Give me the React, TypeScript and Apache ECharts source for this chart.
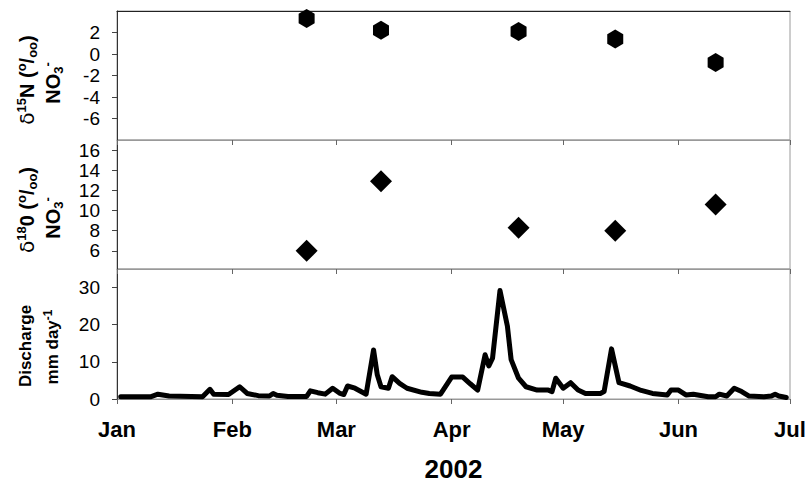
import React, { useEffect, useRef } from 'react';
import * as echarts from 'echarts';

const monthTickDays = [0, 31, 59, 90, 120, 151, 181];
const monthLabels = ['Jan', 'Feb', 'Mar', 'Apr', 'May', 'Jun', 'Jul'];

const sampleDates = ['2002-02-21', '2002-03-13', '2002-04-19', '2002-05-15', '2002-06-11'];
const d15N = [3.3, 2.2, 2.1, 1.4, -0.8];
const d18O = [6.0, 12.9, 8.3, 8.0, 10.6];

const d15NTicks = [-6, -4, -2, 0, 2];
const d18OTicks = [6, 8, 10, 12, 14, 16];
const dischargeTicks = [0, 10, 20, 30];

// day of 2002 (0 = Jan 1)
const dischargeDay = [
  1, 9, 11, 14, 23, 25, 26, 30, 33, 35, 38, 41, 42, 43, 46, 51, 52, 54, 56, 58,
  60, 61, 62, 64, 67, 69, 70, 71, 73, 74, 76, 78, 82, 84, 87, 90, 93, 95, 97, 99,
  100, 101, 103, 105, 106, 108, 110, 113, 116, 117, 118, 120, 122, 124, 126, 130, 131, 133, 135, 138,
  141, 144, 148, 149, 151, 153, 155, 159, 161, 162, 164, 166, 168, 170, 174, 176, 177, 178, 180,
];
const dischargeValue = [
  0.6, 0.6, 1.3, 0.8, 0.6, 2.6, 1.3, 1.2, 3.3, 1.5, 0.9, 0.8, 1.5, 1.0, 0.7, 0.7, 2.2, 1.7, 1.3, 2.9,
  1.5, 1.2, 3.5, 2.9, 1.3, 13.2, 6.5, 3.3, 2.9, 6.0, 4.2, 2.9, 1.8, 1.5, 1.3, 5.9, 5.9, 4.1, 2.4, 11.9,
  8.9, 11.0, 29.2, 19.6, 10.6, 5.6, 3.3, 2.4, 2.4, 2.0, 5.6, 2.9, 4.4, 2.4, 1.5, 1.5, 2.0, 13.5, 4.4, 3.5,
  2.3, 1.5, 1.1, 2.4, 2.4, 1.1, 1.3, 0.6, 0.6, 1.3, 0.8, 2.9, 2.0, 0.8, 0.6, 0.8, 1.3, 0.8, 0.4,
];

const dayOf = (iso: string) => (Date.parse(iso) - Date.parse('2002-01-01')) / 86400000;

const FONT = '"Liberation Sans", Arial, Helvetica, sans-serif';
const hexagon = 'path://M0,-10 L8.66,-5 L8.66,5 L0,10 L-8.66,5 L-8.66,-5 Z';

const titleRich = (main: number, small: number) => ({
  b: { fill: '#000', fontFamily: FONT, fontWeight: 'bold', fontSize: main, lineHeight: main + 4 },
  d: { fill: '#000', fontFamily: 'DejaVu Sans, sans-serif', fontSize: main, lineHeight: main + 4 },
  s: { fill: '#000', fontFamily: FONT, fontWeight: 'bold', fontSize: small, lineHeight: small, verticalAlign: 'top' },
  u: { fill: '#000', fontFamily: FONT, fontWeight: 'bold', fontSize: small, lineHeight: small, verticalAlign: 'bottom' },
});

const vText = (x: number, y: number, text: string, main: number, small: number) => ({
  type: 'text',
  x,
  y,
  rotation: Math.PI / 2,
  style: {
    text,
    align: 'center',
    verticalAlign: 'middle',
    rich: titleRich(main, small),
  },
});

export default function App() {
  const ref = useRef<HTMLDivElement>(null);
  useEffect(() => {
    document.body.style.margin = '0';
    if (!ref.current) return;
    const chart = echarts.init(ref.current, undefined, { renderer: 'svg' });
    const gridBase = { left: 117, width: 673, show: true, borderColor: '#9a9a9a', borderWidth: 1 };
    const mkX = (i: number) => ({
      type: 'value',
      gridIndex: i,
      min: 0,
      max: 181,
      axisLine: { show: true, onZero: false, lineStyle: { color: '#999', width: 1 } },
      axisTick: { show: true, inside: false, length: 5, customValues: monthTickDays, lineStyle: { color: '#666' } },
      axisLabel: {
        show: i === 2,
        customValues: monthTickDays,
        margin: 19,
        color: '#000',
        fontFamily: FONT,
        fontWeight: 'bold',
        fontSize: 22,
        formatter: (v: number) => monthLabels[monthTickDays.indexOf(Math.round(v))] ?? '',
      },
      splitLine: { show: false },
      ...(i === 2
        ? {
            name: '2002',
            nameLocation: 'middle',
            nameGap: 57,
            nameTextStyle: { color: '#000', fontFamily: FONT, fontWeight: 'bold', fontSize: 26 },
          }
        : {}),
    });
    const mkY = (i: number, min: number, max: number, ticks: number[]) => ({
      type: 'value',
      gridIndex: i,
      min,
      max,
      axisLine: { show: true, lineStyle: { color: '#333', width: 1 } },
      axisTick: { show: true, inside: false, length: 5, customValues: ticks, lineStyle: { color: '#444' } },
      axisLabel: { customValues: ticks, margin: 17, color: '#000', fontFamily: FONT, fontSize: 19 },
      splitLine: { show: false },
    });
    chart.setOption({
      animation: false,
      backgroundColor: '#fff',
      grid: [
        { ...gridBase, top: 11, height: 129 },
        { ...gridBase, top: 140, height: 129 },
        { ...gridBase, top: 269, height: 130 },
      ],
      xAxis: [
        mkX(0),
        mkX(1),
        mkX(2),
        {
          type: 'value',
          gridIndex: 0,
          position: 'top',
          min: 0,
          max: 181,
          axisLine: { show: true, onZero: false, lineStyle: { color: '#222', width: 1 } },
          axisTick: { show: false },
          axisLabel: { show: false },
          splitLine: { show: false },
        },
      ],
      yAxis: [
        mkY(0, -8, 4, d15NTicks),
        mkY(1, 4.2, 17, d18OTicks),
        mkY(2, 0, 35, dischargeTicks),
      ],
      series: [
        {
          type: 'scatter',
          xAxisIndex: 0,
          yAxisIndex: 0,
          symbol: hexagon,
          symbolSize: [16, 19],
          itemStyle: { color: '#000', opacity: 1 },
          data: sampleDates.map((d, i) => [dayOf(d), d15N[i]]),
        },
        {
          type: 'scatter',
          xAxisIndex: 1,
          yAxisIndex: 1,
          symbol: 'diamond',
          symbolSize: [22, 22],
          itemStyle: { color: '#000', opacity: 1 },
          data: sampleDates.map((d, i) => [dayOf(d), d18O[i]]),
        },
        {
          type: 'line',
          xAxisIndex: 2,
          yAxisIndex: 2,
          showSymbol: false,
          lineStyle: { color: '#000', width: 5, join: 'round', cap: 'round' },
          data: dischargeDay.map((d, i) => [d, dischargeValue[i]]),
        },
      ],
      graphic: [
        vText(27, 80, '{d|δ}{s|15}{b|N (}{s|o}{b|/}{u|oo}{b|)}', 20, 13),
        vText(53, 83, '{b|NO}{u|3}{s|-}', 20, 13),
        vText(27, 210, '{d|δ}{s|18}{b|0 (}{s|o}{b|/}{u|oo}{b|)}', 20, 13),
        vText(53, 218, '{b|NO}{u|3}{s|-}', 20, 13),
        vText(25, 346, '{b|Discharge}', 17, 12),
        vText(52, 347, '{b|mm day}{s|-1}', 17, 12),
      ],
    });
    return () => chart.dispose();
  }, []);
  return <div ref={ref} style={{ width: 811, height: 486 }} />;
}
